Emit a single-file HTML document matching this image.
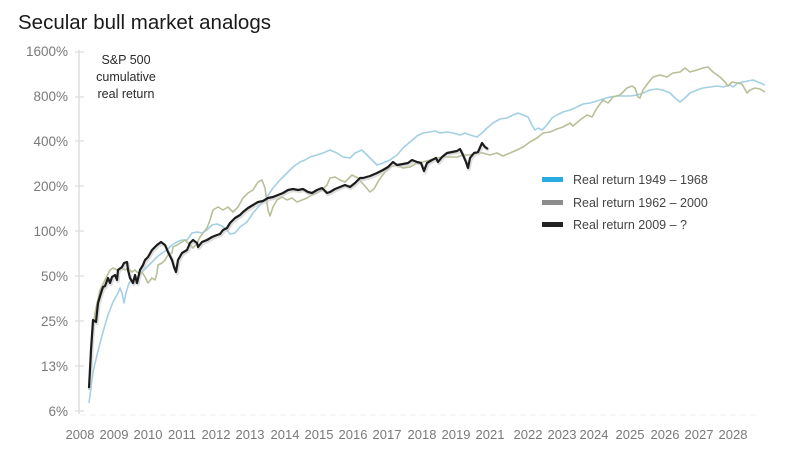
<!DOCTYPE html>
<html>
<head>
<meta charset="utf-8">
<style>
  html,body{margin:0;padding:0;background:#fff;}
  body{width:800px;height:450px;overflow:hidden;}
  svg{display:block;font-family:"Liberation Sans",sans-serif;}
</style>
</head>
<body>
<svg width="800" height="450" viewBox="0 0 800 450" xmlns="http://www.w3.org/2000/svg">
  <rect x="0" y="0" width="800" height="450" fill="#fff"/>
  <!-- Title -->
  <text x="18" y="29" font-size="20.5" fill="#1a1a1a">Secular bull market analogs</text>

  <!-- Y axis -->
  <line x1="79" y1="50" x2="79" y2="414" stroke="#e6e6e6" stroke-width="2"/>
  <g stroke="#dcdcdc" stroke-width="1.2">
    <line x1="75" y1="52" x2="84" y2="52"/>
    <line x1="75" y1="97" x2="84" y2="97"/>
    <line x1="75" y1="141" x2="84" y2="141"/>
    <line x1="75" y1="186" x2="84" y2="186"/>
    <line x1="75" y1="231" x2="84" y2="231"/>
    <line x1="75" y1="276" x2="84" y2="276"/>
    <line x1="75" y1="321" x2="84" y2="321"/>
    <line x1="75" y1="366" x2="84" y2="366"/>
    <line x1="75" y1="411" x2="84" y2="411"/>
  </g>
  <line x1="80" y1="415" x2="760" y2="415" stroke="#f0f0f0" stroke-width="1" stroke-dasharray="6 4"/>

  <g font-size="13.5" fill="#7a7a7a" text-anchor="end">
    <text x="68" y="56">1600%</text>
    <text x="68" y="101">800%</text>
    <text x="68" y="146">400%</text>
    <text x="68" y="191">200%</text>
    <text x="68" y="236">100%</text>
    <text x="68" y="281">50%</text>
    <text x="68" y="326">25%</text>
    <text x="68" y="371">13%</text>
    <text x="68" y="416">6%</text>
  </g>

  <!-- X labels -->
  <g font-size="13" fill="#7a7a7a" text-anchor="middle">
    <text x="80" y="439">2008</text>
    <text x="114" y="439">2009</text>
    <text x="148" y="439">2010</text>
    <text x="182" y="439">2011</text>
    <text x="216" y="439">2012</text>
    <text x="250" y="439">2013</text>
    <text x="285" y="439">2014</text>
    <text x="319" y="439">2015</text>
    <text x="353" y="439">2016</text>
    <text x="387" y="439">2017</text>
    <text x="422" y="439">2018</text>
    <text x="456" y="439">2019</text>
    <text x="490" y="439">2021</text>
    <text x="528" y="439">2022</text>
    <text x="562" y="439">2023</text>
    <text x="594" y="439">2024</text>
    <text x="630" y="439">2025</text>
    <text x="665" y="439">2026</text>
    <text x="699" y="439">2027</text>
    <text x="733" y="439">2028</text>
  </g>

  <!-- Annotation -->
  <g font-size="12.5" fill="#2a2a2a" text-anchor="middle">
    <text x="126" y="64">S&amp;P 500</text>
    <text x="126" y="81">cumulative</text>
    <text x="126" y="98">real return</text>
  </g>

  <!-- Blue series 1949-1968 -->
  <polyline fill="none" stroke="#a3d0e4" stroke-width="1.6" stroke-linejoin="round" points="89,403 93,372 97,355 103,332 108,315 113,302 118,293 120,288 122,293 124,303 126,293 129,283 132,280 135,283 138,277 142,272 147,267 152,262 157,257 162,253 167,250 172,245 177,242 182,240 187,240 192,233 197,232 202,233 207,230 212,225 217,224 222,226 227,230 230,234 235,233 240,227 247,222 253,213 260,205 267,197 273,188 280,180 287,173 293,167 300,162 305,160 310,157 317,155 323,153 330,150 337,153 343,157 350,158 355,153 362,150 367,155 372,160 377,165 383,163 390,160 397,155 403,148 410,142 417,136 423,133 430,132 435,131 440,133 447,132 453,133 460,135 465,133 470,135 477,137 482,133 487,128 493,123 500,119 507,118 513,115 518,113 523,115 528,117 532,125 535,130 538,128 542,130 547,125 552,118 557,115 563,112 570,110 577,107 583,104 590,103 597,101 603,99 610,97 617,96 623,96 630,96 637,95 643,93 650,90 657,89 663,90 670,93 675,98 680,102 685,98 690,93 697,90 703,88 710,87 717,86 723,87 730,85 733,87 738,83 743,82 748,81 753,80 758,82 765,85"/>

  <!-- Olive series 1962-2000 -->
  <polyline fill="none" stroke="#b7c096" stroke-width="1.6" stroke-linejoin="round" points="89,390 92,340 95,313 100,290 105,280 110,270 113,268 117,270 122,268 125,270 128,268 132,272 135,270 138,273 142,272 145,277 148,283 152,278 155,280 157,273 158,265 162,263 165,260 168,255 172,253 173,247 177,245 182,242 185,240 190,245 193,248 197,243 200,237 203,233 207,228 210,220 213,210 218,207 223,210 228,207 233,212 238,207 243,198 248,193 253,190 258,182 262,180 265,188 268,210 270,216 273,207 277,200 282,197 287,200 292,198 297,202 302,200 307,198 312,195 317,193 322,190 327,185 330,178 335,177 340,180 345,182 352,175 358,178 364,185 370,192 374,189 379,180 385,172 390,167 397,165 403,168 410,167 417,163 423,162 430,160 437,158 443,157 450,157 457,157 463,155 470,155 477,153 483,153 490,155 497,153 503,156 510,153 517,150 523,147 530,142 537,138 543,133 550,132 557,129 563,127 570,123 573,126 580,120 587,115 592,117 597,108 603,100 608,103 613,97 620,95 627,88 632,86 635,88 638,97 640,98 643,90 648,83 653,77 660,75 667,77 673,73 680,72 685,68 690,72 697,70 703,68 708,67 713,72 720,77 725,82 728,86 732,82 737,83 742,84 747,93 750,90 755,88 760,89 765,92"/>

  <!-- Black series 2009-? (shadow + line) -->
  <polyline fill="none" stroke="#c8c8c8" stroke-opacity="0.6" stroke-width="3.2" stroke-linejoin="round" transform="translate(1,1.5)" points="89,388 91,350 93,320 96,322 98,303 101,293 103,287 105,286 108,278 110,283 112,277 115,275 117,280 118,270 122,267 124,263 127,262 128,270 130,278 133,283 135,275 137,283 140,270 143,265 145,260 148,257 152,250 157,245 161,242 165,245 168,252 172,260 174,267 176,272 178,260 182,253 187,250 190,243 193,240 197,243 198,247 202,242 207,240 212,237 217,235 220,234 223,230 227,228 230,223 235,218 240,215 243,212 248,208 253,205 258,202 263,201 268,198 273,197 278,195 283,193 288,190 293,189 298,190 303,189 308,192 312,193 317,190 322,188 327,193 330,192 335,189 340,187 345,185 350,187 355,183 360,178 363,178 370,176 377,173 383,170 388,167 393,162 397,165 403,164 408,163 412,160 417,162 421,163 424,171 427,163 432,160 436,158 438,162 442,157 447,153 452,152 457,151 460,149 463,155 466,162 468,168 470,158 474,153 478,152 482,143 485,147 488,149"/>
  <polyline fill="none" stroke="#1c1c1c" stroke-width="2.2" stroke-linejoin="round" points="89,388 91,350 93,320 96,322 98,303 101,293 103,287 105,286 108,278 110,283 112,277 115,275 117,280 118,270 122,267 124,263 127,262 128,270 130,278 133,283 135,275 137,283 140,270 143,265 145,260 148,257 152,250 157,245 161,242 165,245 168,252 172,260 174,267 176,272 178,260 182,253 187,250 190,243 193,240 197,243 198,247 202,242 207,240 212,237 217,235 220,234 223,230 227,228 230,223 235,218 240,215 243,212 248,208 253,205 258,202 263,201 268,198 273,197 278,195 283,193 288,190 293,189 298,190 303,189 308,192 312,193 317,190 322,188 327,193 330,192 335,189 340,187 345,185 350,187 355,183 360,178 363,178 370,176 377,173 383,170 388,167 393,162 397,165 403,164 408,163 412,160 417,162 421,163 424,171 427,163 432,160 436,158 438,162 442,157 447,153 452,152 457,151 460,149 463,155 466,162 468,168 470,158 474,153 478,152 482,143 485,147 488,149"/>

  <!-- Legend -->
  <rect x="542" y="177" width="21" height="5" fill="#29abe2"/>
  <rect x="542" y="200" width="21" height="5" fill="#8c8c8c"/>
  <rect x="542" y="222" width="21" height="5" fill="#222"/>
  <g font-size="12.5" fill="#444">
    <text x="573" y="184">Real return 1949 – 1968</text>
    <text x="573" y="207">Real return 1962 – 2000</text>
    <text x="573" y="229">Real return 2009 – ?</text>
  </g>
</svg>
</body>
</html>
